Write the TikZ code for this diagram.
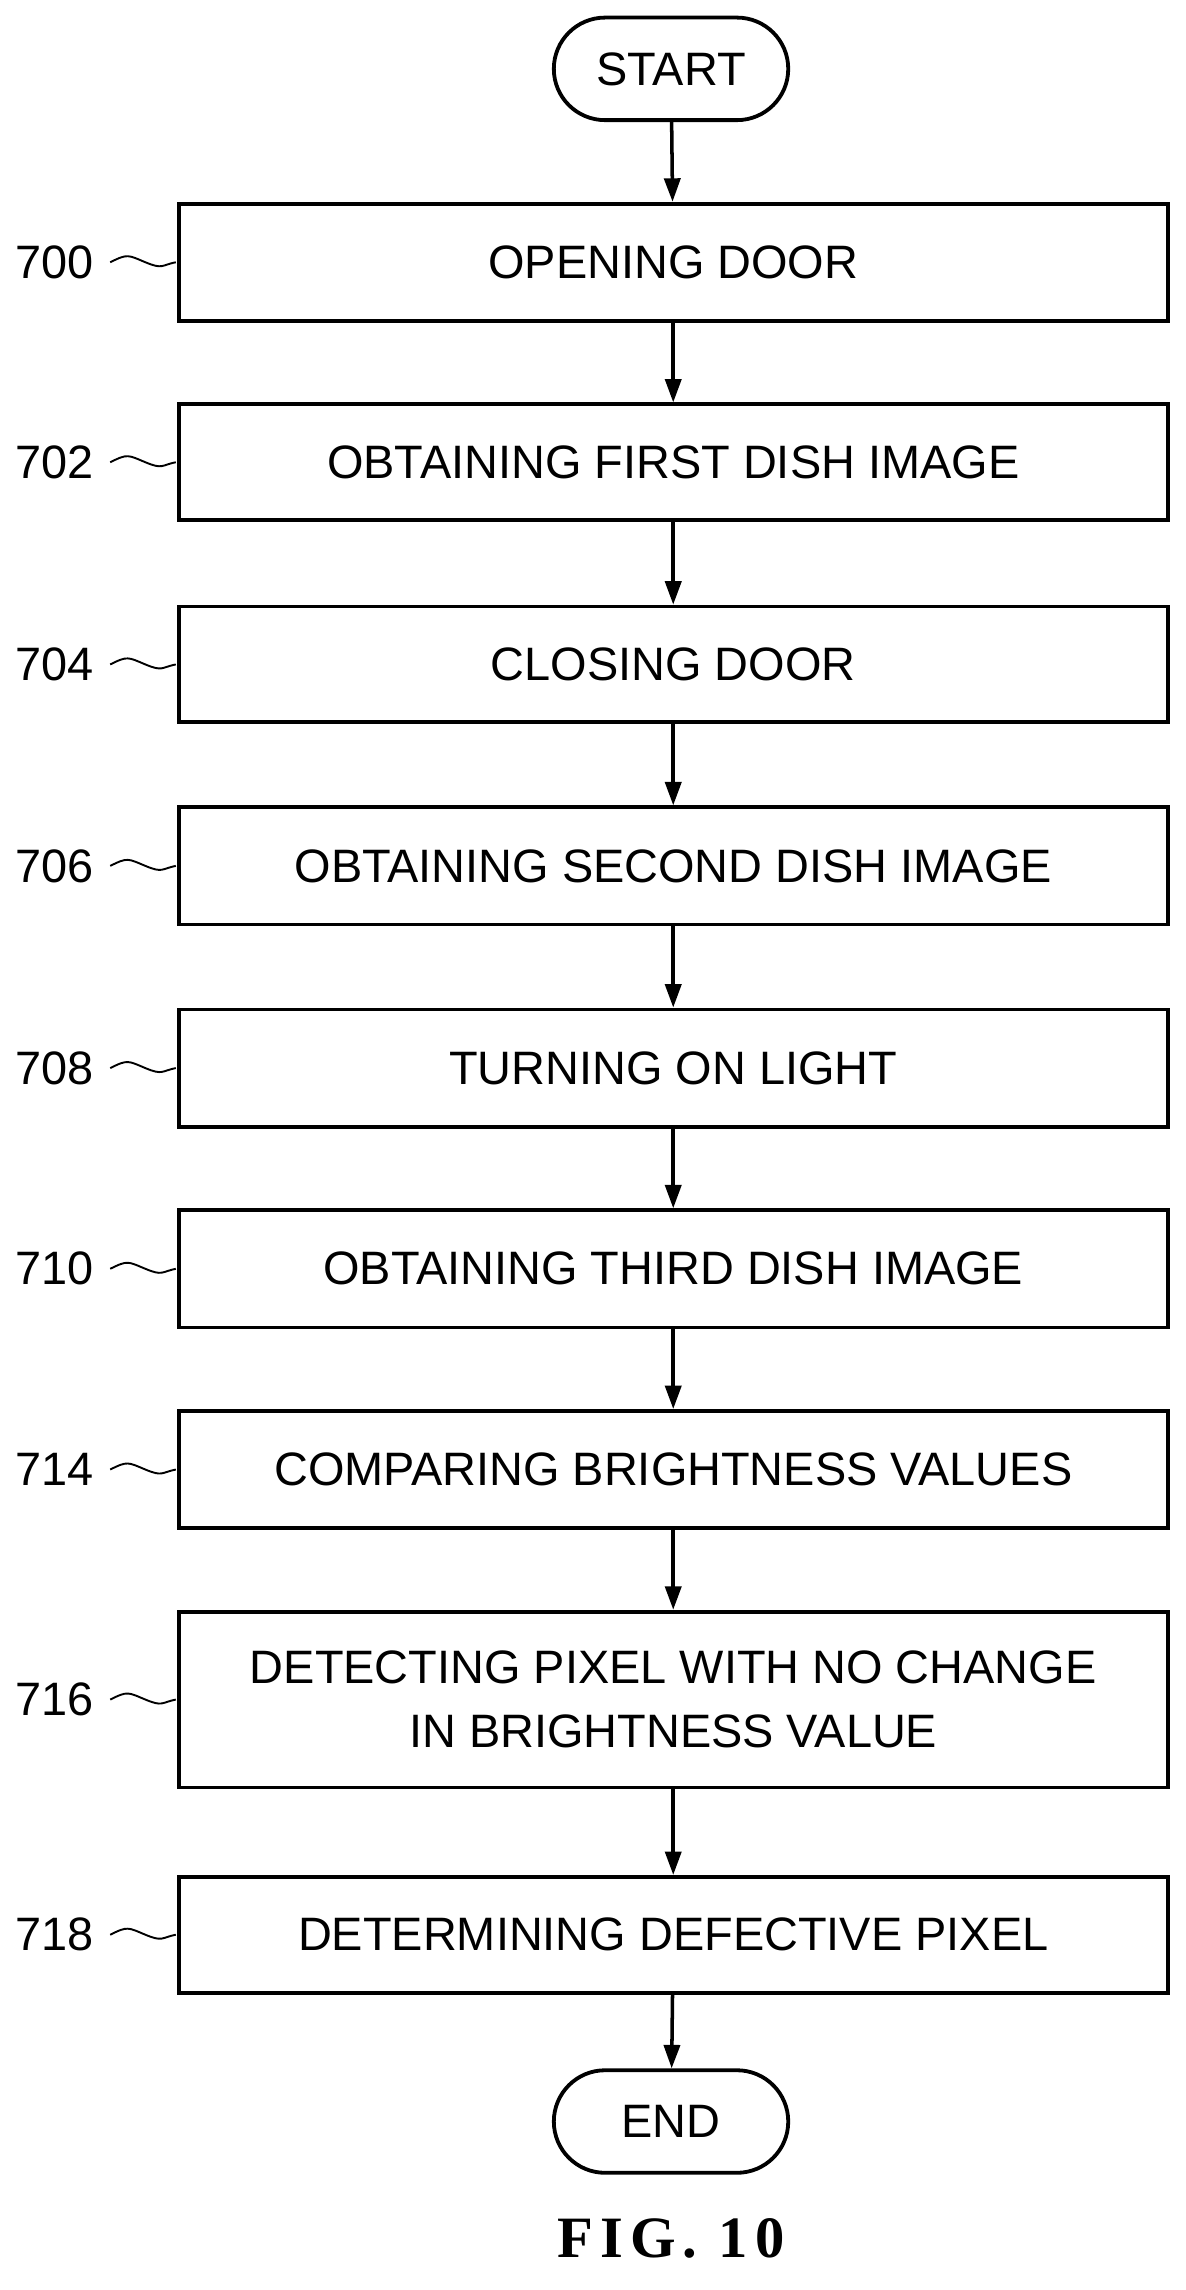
\documentclass[tikz,border=0pt]{standalone}
\usepackage{fontspec}
\setmainfont{Liberation Sans}
\newfontfamily\figfont[LetterSpace=12]{Liberation Serif}
\usetikzlibrary{arrows.meta,shapes.geometric}
\begin{document}
\begin{tikzpicture}[x=1pt,y=-1pt,
  stepbox/.style={draw,line width=2.6pt,minimum width=675pt,font=\fontsize{32}{44}\selectfont,align=center,inner sep=0pt},
  term/.style={draw,line width=2.6pt,rounded corners=35pt,minimum width=160pt,minimum height=70pt,font=\fontsize{32}{36}\selectfont,inner sep=0pt},
  lab/.style={font=\fontsize{32}{36}\selectfont,anchor=center},
  arr/.style={line width=2.4pt,-{Triangle[length=16pt,width=11pt]}},
  wig/.style={line width=1.3pt}]
\useasboundingbox (0,0) rectangle (809,1563);
\node[term] (start) at (458,47) {START};
\node[term] (end) at (458,1448) {END};
\foreach \n/\t/\a/\b/\txt in {
 700/a/139/219/OPENING DOOR,
 702/b/276/355/OBTAINING FIRST DISH IMAGE,
 704/c/414/493/CLOSING DOOR,
 706/d/551/631/OBTAINING SECOND DISH IMAGE,
 708/e/689/769/TURNING ON LIGHT,
 710/f/826/906/OBTAINING THIRD DISH IMAGE,
 714/g/963/1043/COMPARING BRIGHTNESS VALUES,
 716/h/1100/1220/{DETECTING PIXEL WITH NO CHANGE\\IN BRIGHTNESS VALUE},
 718/i/1281/1360/DETERMINING DEFECTIVE PIXEL}{
  \node[stepbox,minimum height={\b-\a}] (\t) at (459.5,{(\a+\b)/2}) {\txt};
  \node[lab] (l\t) at (37,{(\a+\b)/2}) {\n};
  \coordinate (w\t) at (120,{(\a+\b)/2});
  \draw[wig] (l\t.east) ++(8,0) .. controls +(12,-6) and +(-12,-5) .. +(24,0) .. controls +(12,5) and +(-10,2) .. (w\t);
}
\draw[arr] (start) -- (a);
\draw[arr] (a) -- (b);
\draw[arr] (b) -- (c);
\draw[arr] (c) -- (d);
\draw[arr] (d) -- (e);
\draw[arr] (e) -- (f);
\draw[arr] (f) -- (g);
\draw[arr] (g) -- (h);
\draw[arr] (h) -- (i);
\draw[arr] (i) -- (end);
\node[font=\figfont\bfseries\fontsize{40}{44}\selectfont] (fig) at (458,1528) {FIG. 10};
\end{tikzpicture}
\end{document}
